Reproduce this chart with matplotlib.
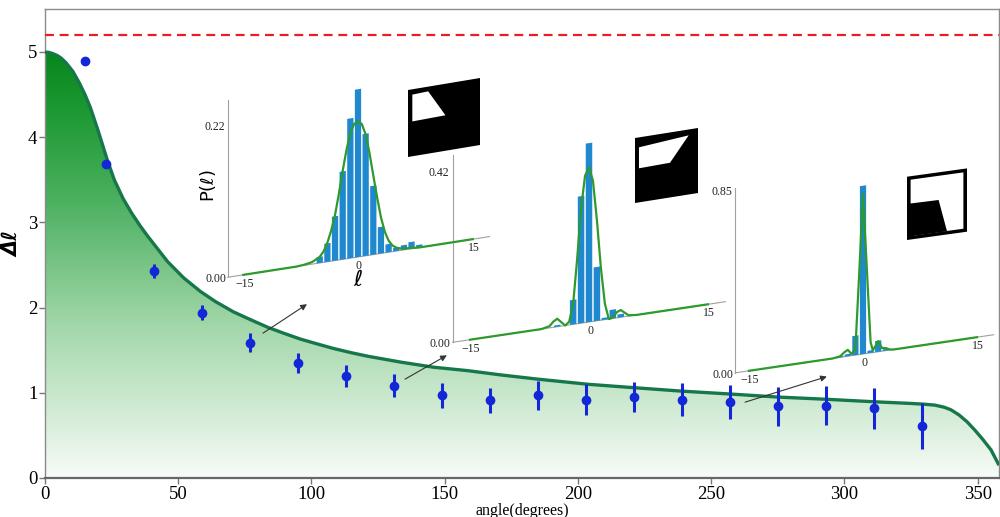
import numpy as np
import matplotlib
matplotlib.use("Agg")
import matplotlib.pyplot as plt
from matplotlib.colors import LinearSegmentedColormap
from matplotlib.patches import Polygon
from matplotlib.transforms import Affine2D

# ---------------- data ----------------
# theoretical spread of the OAM spectrum versus aperture angle
curve_angle = [0, 1.5, 3, 4.5, 6, 8, 10.5, 13, 15, 17, 18.5, 20, 21.5, 23.3, 26,
               29.3, 32.5, 35.7, 38.5, 41, 46, 52, 58.3, 64, 70.7, 77, 83.5,
               89.5, 95.9, 102, 108.3, 115, 121, 133.5, 145.9, 158.6, 171, 185,
               203.8, 221, 238.7, 257.5, 275, 292.5, 311, 325, 330, 334, 337.5,
               340, 343, 346, 349, 352, 355, 358]
curve_dl = [5.00, 4.995, 4.98, 4.96, 4.93, 4.87, 4.77, 4.63, 4.50, 4.35, 4.21,
            4.07, 3.92, 3.74, 3.50, 3.28, 3.11, 2.96, 2.84, 2.74, 2.54, 2.35,
            2.19, 2.07, 1.95, 1.86, 1.77, 1.70, 1.63, 1.575, 1.52, 1.47, 1.43,
            1.36, 1.30, 1.26, 1.21, 1.16, 1.10, 1.06, 1.02, 0.985, 0.95, 0.925,
            0.895, 0.875, 0.866, 0.855, 0.83, 0.80, 0.74, 0.66, 0.56, 0.45, 0.33,
            0.15]

# measured spread with error bars
meas_angle = [15, 23, 41, 59, 77, 95, 113, 131, 149, 167, 185, 203, 221, 239,
              257, 275, 293, 311, 329]
meas_dl = [4.90, 3.68, 2.43, 1.94, 1.59, 1.35, 1.20, 1.08, 0.97, 0.91, 0.97, 0.92,
           0.95, 0.92, 0.89, 0.84, 0.85, 0.82, 0.61]
meas_err = [0.02, 0.03, 0.08, 0.09, 0.11, 0.12, 0.13, 0.135, 0.15, 0.15, 0.17,
            0.18, 0.18, 0.19, 0.20, 0.23, 0.23, 0.24, 0.27]

limit_dl = 5.2

# OAM histograms P(l) for three apertures
hist1_l = [-5, -4, -3, -2, -1, 0, 1, 2, 3, 4, 5, 6, 7, 8]
hist1_p = [0.009, 0.027, 0.065, 0.129, 0.205, 0.246, 0.179, 0.101, 0.039, 0.012,
           0.005, 0.007, 0.010, 0.004]
fit1_l = [-15, -8, -7, -6, -5, -4.5, -4, -3.5, -3, -2.5, -2, -1.5, -1, -0.5, 0,
          0.5, 1, 1.5, 2, 2.5, 3, 3.5, 4, 4.5, 5, 5.5, 6, 7, 8, 15]
fit1_p = [0.0, 0.0, 0.001, 0.003, 0.009, 0.016, 0.028, 0.045, 0.067, 0.097, 0.130,
          0.160, 0.184, 0.196, 0.199, 0.194, 0.178, 0.150, 0.116, 0.083, 0.053,
          0.031, 0.017, 0.009, 0.005, 0.003, 0.002, 0.001, 0.0, 0.0]

hist2_l = [-4, -2, -1, 0, 1, 2, 3, 4]
hist2_p = [0.004, 0.061, 0.316, 0.445, 0.134, 0.005, 0.022, 0.008]
fit2_l = [-15, -6, -5, -4.5, -4, -3.5, -3, -2.5, -2, -1.5, -1, -0.5, 0, 0.5, 1,
          1.5, 2, 2.5, 3, 3.5, 4, 4.5, 5, 6, 15]
fit2_p = [0.0, 0.0, 0.004, 0.014, 0.020, 0.010, 0.0, 0.008, 0.050, 0.160, 0.285,
          0.365, 0.385, 0.350, 0.250, 0.130, 0.040, 0.0, 0.002, 0.014, 0.018,
          0.010, 0.002, 0.0, 0.0]

hist3_l = [-3, -2, -1, 0, 1, 2, 3]
hist3_p = [0.006, 0.010, 0.091, 0.790, 0.012, 0.052, 0.008]
fit3_l = [-15, -4, -3, -2.5, -2, -1.5, -1, -0.5, 0, 0.5, 1, 1.3, 2, 2.5, 3, 3.5,
          4, 15]
fit3_p = [0.0, 0.0, 0.005, 0.020, 0.030, 0.008, 0.030, 0.380, 0.750, 0.400,
          0.050, 0.010, 0.050, 0.015, 0.012, 0.003, 0.0, 0.0]

inset_ticks = ["0.22", "0.42", "0.85"]

# ---------------- style ----------------
serif = ["Liberation Serif", "DejaVu Serif"]
plt.rcParams["font.family"] = serif
plt.rcParams["mathtext.fontset"] = "dejavusans"

W, H = 1000, 517
fig = plt.figure(figsize=(W / 100, H / 100), dpi=100)

ax = fig.add_axes([0.045, 1 - 478 / H, 0.954, 468.6 / H])
ax.set_xlim(0, 358)
ax.set_ylim(0, 5.5)

# gradient fill under the theory curve
green_map = LinearSegmentedColormap.from_list(
    "fade", [(0.0, "#f7fbf7"), (0.35, "#a4d8ab"), (0.65, "#4cb060"),
             (0.85, "#1f9a35"), (1.0, "#07861a")])
ramp = np.linspace(0, 1, 256).reshape(-1, 1)
shade = ax.imshow(ramp, extent=[0, 358, 0, 5.0], origin="lower", aspect="auto",
                  cmap=green_map, zorder=1, interpolation="bilinear")
region = ax.fill_between(curve_angle, curve_dl, 0, facecolor="none",
                         edgecolor="none")
shade.set_clip_path(region.get_paths()[0], transform=ax.transData)

ax.plot(curve_angle, curve_dl, color="#16784a", lw=2.4, zorder=3,
        solid_capstyle="butt", solid_joinstyle="round")

ax.axhline(limit_dl, color="#ec1c24", lw=1.6, ls=(0, (4, 2.6)), zorder=3)

ax.errorbar(meas_angle, meas_dl, yerr=meas_err, fmt="o", color="#1326d8",
            ms=6, elinewidth=2.2, capsize=0, zorder=4)

# arrows pointing at the histogram insets
arrow_paths = [((81.8, 1.70), (98.3, 2.04)),
               ((135.1, 1.16), (150.8, 1.44)),
               ((262.7, 0.89), (293.4, 1.19))]
for start, end in arrow_paths:
    ax.annotate("", xy=end, xytext=start,
                arrowprops=dict(arrowstyle="-|>", color="#333333", lw=0.8,
                                mutation_scale=9, shrinkA=0, shrinkB=0),
                zorder=5)

ax.set_xticks(range(0, 351, 50))
ax.set_yticks(range(0, 6))
ax.tick_params(direction="out", length=4, width=1, color="#777777",
               labelsize=13.5, pad=1.5)
for side in ["top", "right", "left"]:
    ax.spines[side].set_color("#8a8a8a")
    ax.spines[side].set_linewidth(1.0)
ax.spines["bottom"].set_color("#666666")
ax.spines["bottom"].set_linewidth(1.6)
ax.set_xlabel("angle(degrees)", fontsize=11.5, labelpad=0)
ax.set_ylabel("Δℓ", fontsize=15, fontstyle="italic", fontweight="bold",
              family=["DejaVu Sans"])
ax.yaxis.set_label_coords(-0.024, 0.5)

# ---------------- histogram insets ----------------
ov = fig.add_axes([0, 0, 1, 1], zorder=10)
ov.set_xlim(0, W)
ov.set_ylim(H, 0)
ov.set_autoscale_on(False)
ov.patch.set_alpha(0)
ov.axis("off")

insets = [
    dict(l=hist1_l, p=hist1_p, fl=fit1_l, fp=fit1_p, tick=0.22, label=inset_ticks[0],
         x0=358, y0=257, sx=7.65, k=1.19, sp=682, top=0.26, lax=-17.0),
    dict(l=hist2_l, p=hist2_p, fl=fit2_l, fp=fit2_p, tick=0.42, label=inset_ticks[1],
         x0=589, y0=322, sx=7.93, k=1.18, sp=402, top=0.465, lax=-17.2),
    dict(l=hist3_l, p=hist3_p, fl=fit3_l, fp=fit3_p, tick=0.85, label=inset_ticks[2],
         x0=863, y0=354, sx=7.6, k=1.12, sp=213, top=0.87, lax=-16.8),
]

for ins in insets:
    skew = Affine2D(np.array([[ins["sx"], 0.0, ins["x0"]],
                              [-ins["k"], -ins["sp"], ins["y0"]],
                              [0.0, 0.0, 1.0]]))
    T = skew + ov.transData

    def px(l, p=0.0, m=skew):
        return m.transform((l, p))

    lax = ins["lax"]
    # axis lines
    ov.plot([lax, lax], [0, ins["top"]], color="#a0a0a0", lw=0.8, transform=T)
    ov.plot([lax, 17.2], [0, 0], color="#a0a0a0", lw=0.8, transform=T)
    # bars and fitted curve
    ov.bar(ins["l"], ins["p"], width=0.82, color="#1f88cf", transform=T,
           zorder=2, linewidth=0)
    ov.plot(ins["fl"], ins["fp"], color="#2e9a2c", lw=1.6, transform=T, zorder=3)

    # tick labels
    for lv, txt in [(-15, "\u221215"), (0, "0"), (15, "15")]:
        xx, yy = px(lv)
        ov.text(xx + 1, yy + 9, txt, fontsize=8.5, ha="center", va="center",
                color="#222222")
    xx, yy = px(lax)
    ov.text(xx - 2, yy + 2, "0.00", fontsize=8.5, ha="right", va="center",
            color="#222222")
    xx, yy = px(lax, ins["tick"])
    ov.text(xx - 3, yy, ins["label"], fontsize=8.5, ha="right", va="center",
            color="#222222")

# axis titles of the first inset
ov.text(208, 186, r"P($\ell$)", fontsize=13, rotation=90, ha="center",
        va="center", family=["DejaVu Sans"])
ov.text(358, 281, r"$\ell$", fontsize=16, ha="center", va="center")

# aperture sketches drawn in a unit square mapped onto a slanted frame
sketch_frames = [((408, 157), (72, -12), (0, -67)),
                 ((635, 203), (63, -10), (0, -65)),
                 ((907, 240), (60, -8.3), (0, -63.3))]
unit_square = [(0, 0), (1, 0), (1, 1), (0, 1)]
openings = [
    [("k", unit_square), ("w", [(0.06, 0.52), (0.06, 0.92), (0.28, 0.93), (0.52, 0.53)])],
    [("k", unit_square), ("w", [(0.063, 0.524), (0.063, 0.847), (0.852, 0.91), (0.556, 0.534)])],
    [("k", unit_square), ("w", [(0.06, 0.055), (0.94, 0.055), (0.94, 0.945), (0.06, 0.945)]),
     ("k", [(0.05, 0.05), (0.667, 0.05), (0.527, 0.563), (0.05, 0.569)])],
]
for (origin, uvec, vvec), shapes in zip(sketch_frames, openings):
    frame = Affine2D(np.array([[uvec[0], vvec[0], origin[0]],
                               [uvec[1], vvec[1], origin[1]],
                               [0, 0, 1]])) + ov.transData
    for col, pts in shapes:
        ov.add_patch(Polygon(pts, closed=True, facecolor=col, edgecolor="none",
                             transform=frame, zorder=4))

fig.savefig("out.png", dpi=100)
